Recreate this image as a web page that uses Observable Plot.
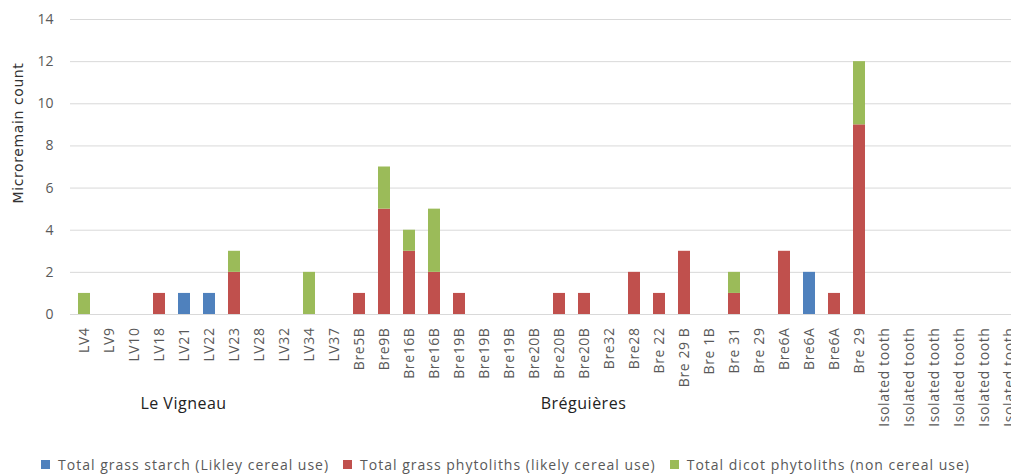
<!DOCTYPE html>
<html>
<head>
<meta charset="utf-8">
<script src="https://cdn.jsdelivr.net/npm/d3@7"></script>
<script src="https://cdn.jsdelivr.net/npm/@observablehq/plot@0.6"></script>
<style>
  html, body { margin: 0; padding: 0; background: #fff; }
  #chart svg { display: block; }
  .legend { display: flex; justify-content: center; align-items: center; gap: 14px;
    font-family: "Open Sans", sans-serif; font-size: 14px; letter-spacing: 1px; color: #595959;
    height: 27px; padding-top: 3px; white-space: nowrap; }
  .legend .item { display: flex; align-items: center; gap: 8px; }
  .legend .sw { width: 9px; height: 9px; display: inline-block; }
</style>
</head>
<body>
<div id="chart"></div>
<script>
const categories = [
  "LV4","LV9","LV10","LV18","LV21","LV22","LV23","LV28","LV32","LV34","LV37",
  "Bre5B","Bre9B","Bre16B","Bre16B","Bre19B","Bre19B","Bre19B","Bre20B","Bre20B","Bre20B",
  "Bre32","Bre28","Bre 22","Bre 29 B","Bre 1B","Bre 31","Bre 29","Bre6A","Bre6A","Bre6A","Bre 29",
  "Isolated tooth","Isolated tooth","Isolated tooth","Isolated tooth","Isolated tooth","Isolated tooth"
];
const grassStarch = [0,0,0,0,1,1,0,0,0,0,0, 0,0,0,0,0,0,0,0,0,0, 0,0,0,0,0,0,0,0,2,0,0, 0,0,0,0,0,0];
const grassPhytoliths = [0,0,0,1,0,0,2,0,0,0,0, 1,5,3,2,1,0,0,0,1,1, 0,2,1,3,0,1,0,3,0,1,9, 0,0,0,0,0,0];
const dicotPhytoliths = [1,0,0,0,0,0,1,0,0,2,0, 0,2,1,3,0,0,0,0,0,0, 0,0,0,0,0,1,0,0,0,0,3, 0,0,0,0,0,0];
const seriesNames = [
  "Total grass starch (Likley cereal use)",
  "Total grass phytoliths (likely cereal use)",
  "Total dicot phytoliths (non cereal use)"
];
const seriesColors = ["#4F81BD", "#C0504D", "#9BBB59"];
const groups = [
  {name: "Le Vigneau", first: 0, last: 10},
  {name: "Bréguières", first: 11, last: 31}
];
const yTicks = [0, 2, 4, 6, 8, 10, 12, 14];
const yTitle = "Microremain count";

const seriesValues = [grassStarch, grassPhytoliths, dicotPhytoliths];
const rows = [];
categories.forEach((c, i) => {
  seriesNames.forEach((s, k) => rows.push({key: i, series: s, value: seriesValues[k][i]}));
});
const groupRows = groups.map(g => ({name: g.name, key: Math.round((g.first + g.last) / 2)}));
const keys = d3.range(categories.length);

const chart = Plot.plot({
  width: 1011,
  height: 448,
  marginTop: 19,
  marginBottom: 134,
  marginLeft: 70,
  marginRight: 0,
  style: {fontFamily: "'Open Sans', sans-serif", background: "#fff"},
  x: {domain: keys, range: [71, 1021], paddingInner: 0.53, paddingOuter: 0.265, label: null},
  y: {domain: [0, 14], label: null},
  color: {domain: seriesNames, range: seriesColors},
  marks: [
    Plot.gridY(yTicks, {stroke: "#d9d9d9", strokeOpacity: 1, strokeWidth: 1}),
    Plot.barY(rows, {x: "key", y: "value", fill: "series", order: seriesNames, inset: 0}),
    Plot.ruleY([0], {stroke: "#d9d9d9", strokeWidth: 1}),
    Plot.axisY({ticks: yTicks, tickSize: 0, tickPadding: 17, fontSize: 14, fill: "#595959", label: null}),
    Plot.axisX({tickSize: 0, tickPadding: 13, tickRotate: -90, tickFormat: i => categories[i],
      fontSize: 14, fill: "#595959", label: null}),
    Plot.text([yTitle], {text: d => d, frameAnchor: "left", textAnchor: "middle", rotate: -90, dx: -52, dy: -34,
      fontSize: 14, fill: "#333", fontFamily: "'DejaVu Sans', sans-serif"}),
    Plot.text(groupRows, {x: "key", text: "name", frameAnchor: "bottom", dy: 94, dx: -26,
      fontSize: 16, fill: "#222", fontFamily: "'Open Sans', sans-serif"})
  ]
});
d3.select(chart).selectAll("g[aria-label='x-axis tick label'] text").style("letter-spacing", "0.6px");
d3.select(chart).selectAll("g[aria-label='text'] text").filter(function() { return this.textContent === yTitle; })
  .style("letter-spacing", "0.6px");
d3.select(chart).selectAll("g[aria-label='text'] text").filter(function() { return groups.some(g => g.name === this.textContent); })
  .style("letter-spacing", "0.5px");
document.getElementById("chart").appendChild(chart);

const legend = d3.select("body").append("div").attr("class", "legend");
seriesNames.forEach((s, k) => {
  const it = legend.append("div").attr("class", "item");
  it.append("span").attr("class", "sw").style("background", seriesColors[k]);
  it.append("span").text(s);
});
</script>
</body>
</html>
